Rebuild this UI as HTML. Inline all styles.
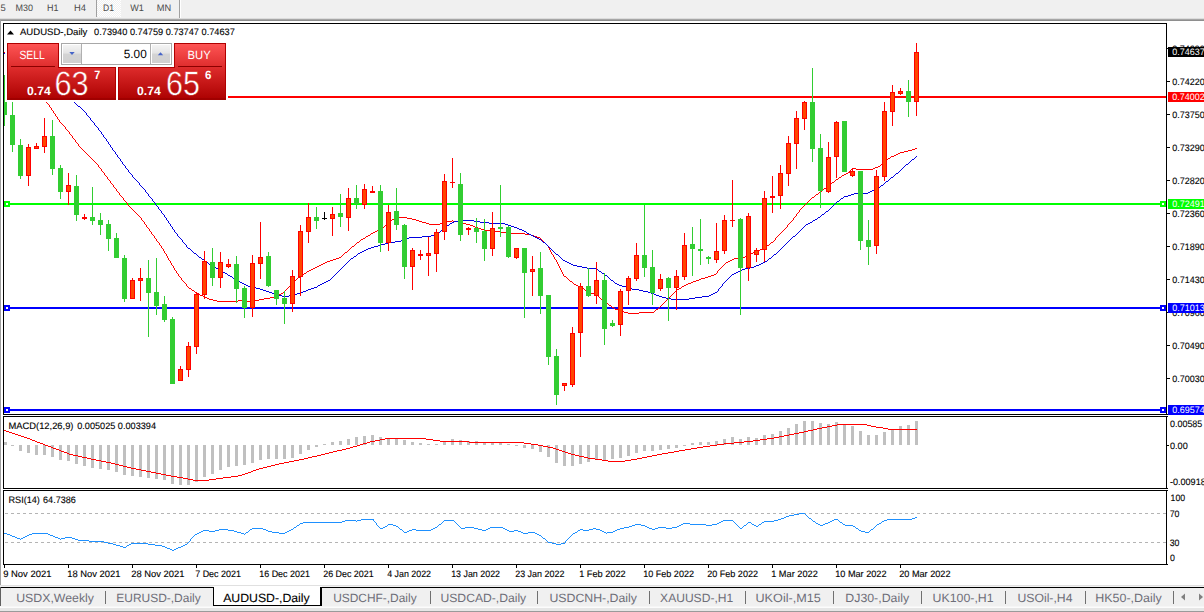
<!DOCTYPE html>
<html><head><meta charset="utf-8"><title>AUDUSD-,Daily</title>
<style>html,body{margin:0;padding:0;background:#fff;overflow:hidden}body{width:1204px;height:612px;position:relative;font-family:"Liberation Sans",sans-serif}</style>
</head><body>
<svg width="1204" height="612" viewBox="0 0 1204 612" style="position:absolute;left:0;top:0" font-family="Liberation Sans, sans-serif" text-rendering="geometricPrecision">
<defs><linearGradient id="rg" x1="0" y1="0" x2="0" y2="1"><stop offset="0" stop-color="#ff5656"/><stop offset="0.45" stop-color="#dc2a2a"/><stop offset="1" stop-color="#ab0000"/></linearGradient><linearGradient id="rgu" gradientUnits="userSpaceOnUse" x1="0" y1="43" x2="0" y2="100"><stop offset="0" stop-color="#ff5656"/><stop offset="0.45" stop-color="#dc2a2a"/><stop offset="1" stop-color="#ab0000"/></linearGradient><linearGradient id="bg" x1="0" y1="0" x2="0" y2="1"><stop offset="0" stop-color="#f4f4f4"/><stop offset="0.45" stop-color="#e4e4e4"/><stop offset="0.5" stop-color="#d4d4d4"/><stop offset="1" stop-color="#d0d0d0"/></linearGradient><linearGradient id="sh" x1="0" y1="0" x2="0" y2="1"><stop offset="0" stop-color="#e8e8e8"/><stop offset="0.5" stop-color="#8c8c8c"/><stop offset="1" stop-color="#a8a8a8"/></linearGradient><pattern id="chk" width="2" height="2" patternUnits="userSpaceOnUse"><rect width="2" height="2" fill="#f0f0f0"/><rect width="1" height="1" fill="#ffffff"/><rect x="1" y="1" width="1" height="1" fill="#ffffff"/></pattern><clipPath id="cp"><rect x="4" y="24" width="1162" height="390"/></clipPath></defs>
<g shape-rendering="crispEdges">
<rect x="0" y="0" width="1204" height="19" fill="#f0f0f0"/>
<rect x="97" y="0" width="24" height="17" fill="url(#chk)"/>
<rect x="96" y="0" width="1" height="17" fill="#a0a0a0"/>
<rect x="179" y="0" width="1" height="19" fill="#a0a0a0"/><rect x="180" y="0" width="1" height="19" fill="#ffffff"/>
<rect x="0" y="18" width="1204" height="1" fill="#dcdcdc"/><rect x="0" y="19" width="1204" height="1" fill="#a6a6a6"/><rect x="0" y="20" width="1204" height="1" fill="#8e8e8e"/>
<rect x="0" y="20" width="1" height="566" fill="#a0a0a0"/>
<rect x="3" y="23" width="1164" height="1" fill="#000"/>
<rect x="3" y="23" width="1" height="542" fill="#000"/>
<rect x="1166" y="23" width="1" height="542" fill="#000"/>
<rect x="3" y="414" width="1165" height="1" fill="#000"/>
<rect x="3" y="416" width="1165" height="1" fill="#000"/>
<rect x="3" y="415" width="1164" height="1" fill="#fff"/>
<rect x="3" y="488" width="1165" height="1" fill="#000"/>
<rect x="3" y="490" width="1165" height="1" fill="#000"/>
<rect x="3" y="489" width="1164" height="1" fill="#fff"/>
<rect x="3" y="564" width="1165" height="1" fill="#000"/>
</g>
<g shape-rendering="crispEdges">
<rect x="227" y="96" width="939" height="2" fill="#ff0000"/>
<rect x="4" y="203" width="1162" height="2" fill="#00ff00"/>
<rect x="4" y="307" width="1162" height="2" fill="#0000ff"/>
<rect x="4" y="409" width="1162" height="2" fill="#0000ff"/>
<rect x="4" y="201" width="6" height="6" fill="#00ff00"/><rect x="6" y="203" width="2" height="2" fill="#fff"/>
<rect x="1160" y="201" width="6" height="6" fill="#00ff00"/><rect x="1162" y="203" width="2" height="2" fill="#fff"/>
<rect x="4" y="305" width="6" height="6" fill="#0000ff"/><rect x="6" y="307" width="2" height="2" fill="#fff"/>
<rect x="1160" y="305" width="6" height="6" fill="#0000ff"/><rect x="1162" y="307" width="2" height="2" fill="#fff"/>
<rect x="4" y="407" width="6" height="6" fill="#0000ff"/><rect x="6" y="409" width="2" height="2" fill="#fff"/>
<rect x="1160" y="407" width="6" height="6" fill="#0000ff"/><rect x="1162" y="409" width="2" height="2" fill="#fff"/>
<rect x="4" y="52" width="1" height="1" fill="#ff0000"/><rect x="4" y="53" width="1" height="1" fill="#0000ff"/>
</g>
<g clip-path="url(#cp)" shape-rendering="crispEdges">
<path d="M46 102h1v1h-1zM47 103h1v1h-1zM48 104h1v1h-1zM49 105h1v2h-1zM50 107h1v1h-1zM51 108h1v2h-1zM52 110h1v1h-1zM53 111h1v2h-1zM54 113h1v1h-1zM55 114h1v2h-1zM56 116h1v1h-1zM57 117h1v2h-1zM58 119h1v1h-1zM59 120h1v2h-1zM60 122h1v1h-1zM61 123h1v1h-1zM62 124h1v1h-1zM63 125h1v1h-1zM64 126h1v1h-1zM65 127h1v2h-1zM66 129h1v1h-1zM67 130h1v1h-1zM68 131h1v1h-1zM69 132h1v2h-1zM70 134h1v1h-1zM71 135h1v1h-1zM72 136h1v2h-1zM73 138h1v1h-1zM74 139h1v1h-1zM75 140h1v2h-1zM76 142h1v1h-1zM77 143h1v1h-1zM78 144h1v2h-1zM79 146h1v1h-1zM80 147h1v1h-1zM81 148h1v1h-1zM82 149h1v1h-1zM83 150h1v1h-1zM84 151h1v1h-1zM85 152h1v1h-1zM86 153h1v1h-1zM87 154h1v1h-1zM88 155h1v1h-1zM89 156h1v1h-1zM90 157h1v1h-1zM91 158h1v1h-1zM92 159h1v1h-1zM93 160h1v1h-1zM94 161h1v1h-1zM95 162h1v1h-1zM96 163h1v1h-1zM97 164h1v1h-1zM98 165h1v2h-1zM99 167h1v1h-1zM100 168h1v1h-1zM101 169h1v2h-1zM102 171h1v1h-1zM103 172h1v1h-1zM104 173h1v2h-1zM105 175h1v1h-1zM106 176h1v1h-1zM107 177h1v2h-1zM108 179h1v1h-1zM109 180h1v1h-1zM110 181h1v2h-1zM111 183h1v1h-1zM112 184h1v1h-1zM113 185h1v2h-1zM114 187h1v1h-1zM115 188h1v1h-1zM116 189h1v2h-1zM117 191h1v1h-1zM118 192h1v1h-1zM119 193h1v2h-1zM120 195h1v1h-1zM121 196h1v1h-1zM122 197h1v1h-1zM123 198h1v2h-1zM124 200h1v1h-1zM125 201h1v1h-1zM126 202h1v1h-1zM127 203h1v2h-1zM128 205h1v1h-1zM129 206h1v1h-1zM130 207h1v1h-1zM131 208h1v1h-1zM132 209h1v1h-1zM133 210h1v1h-1zM134 211h1v1h-1zM135 212h1v1h-1zM136 213h1v1h-1zM137 214h1v1h-1zM138 215h1v1h-1zM139 216h1v1h-1zM140 217h1v1h-1zM141 218h1v2h-1zM142 220h1v1h-1zM143 221h1v1h-1zM144 222h1v2h-1zM145 224h1v1h-1zM146 225h1v2h-1zM147 227h1v1h-1zM148 228h1v1h-1zM149 229h1v2h-1zM150 231h1v1h-1zM151 232h1v2h-1zM152 234h1v1h-1zM153 235h1v1h-1zM154 236h1v2h-1zM155 238h1v1h-1zM156 239h1v2h-1zM157 241h1v1h-1zM158 242h1v1h-1zM159 243h1v2h-1zM160 245h1v1h-1zM161 246h1v2h-1zM162 248h1v1h-1zM163 249h1v2h-1zM164 251h1v2h-1zM165 253h1v1h-1zM166 254h1v2h-1zM167 256h1v2h-1zM168 258h1v2h-1zM169 260h1v1h-1zM170 261h1v2h-1zM171 263h1v2h-1zM172 265h1v1h-1zM173 266h1v2h-1zM174 268h1v2h-1zM175 270h1v1h-1zM176 271h1v2h-1zM177 273h1v1h-1zM178 274h1v2h-1zM179 276h1v1h-1zM180 277h1v1h-1zM181 278h1v2h-1zM182 280h1v1h-1zM183 281h1v1h-1zM184 282h1v1h-1zM185 283h1v1h-1zM186 284h1v2h-1zM187 286h1v1h-1zM188 287h1v1h-1zM189 288h2v1h-2zM191 289h1v1h-1zM192 290h2v1h-2zM194 291h1v1h-1zM195 292h2v1h-2zM197 293h2v1h-2zM199 294h1v1h-1zM200 295h3v1h-3zM203 296h2v1h-2zM205 297h2v1h-2zM207 298h2v1h-2zM209 299h4v1h-4zM213 300h4v1h-4zM217 301h21v1h-21zM238 300h4v1h-4zM242 301h12v1h-12zM254 300h5v1h-5zM259 299h5v1h-5zM264 298h6v1h-6zM270 297h5v1h-5zM275 296h2v1h-2zM277 295h2v1h-2zM279 294h2v1h-2zM281 293h2v1h-2zM283 292h1v1h-1zM284 291h1v1h-1zM285 290h1v1h-1zM286 289h1v1h-1zM287 288h1v1h-1zM288 287h1v1h-1zM289 286h1v1h-1zM290 285h1v1h-1zM291 284h1v1h-1zM292 283h1v1h-1zM293 282h1v1h-1zM294 281h1v1h-1zM295 280h1v1h-1zM296 279h1v1h-1zM297 278h1v1h-1zM298 277h2v1h-2zM300 276h1v1h-1zM301 275h1v1h-1zM302 274h2v1h-2zM304 273h2v1h-2zM306 272h1v1h-1zM307 271h2v1h-2zM309 270h2v1h-2zM311 269h2v1h-2zM313 268h2v1h-2zM315 267h2v1h-2zM317 266h2v1h-2zM319 265h2v1h-2zM321 264h2v1h-2zM323 263h2v1h-2zM325 262h2v1h-2zM327 261h3v1h-3zM330 260h3v1h-3zM333 259h3v1h-3zM336 258h3v1h-3zM339 257h2v1h-2zM341 256h1v1h-1zM342 255h1v1h-1zM343 254h1v1h-1zM344 253h1v1h-1zM345 252h2v1h-2zM347 251h1v1h-1zM348 250h1v1h-1zM349 249h1v1h-1zM350 248h1v1h-1zM351 247h1v1h-1zM352 246h2v1h-2zM354 245h1v1h-1zM355 244h1v1h-1zM356 243h1v1h-1zM357 242h2v1h-2zM359 241h1v1h-1zM360 240h1v1h-1zM361 239h2v1h-2zM363 238h2v1h-2zM365 237h1v1h-1zM366 236h2v1h-2zM368 235h2v1h-2zM370 234h1v1h-1zM371 233h2v1h-2zM373 232h2v1h-2zM375 231h2v1h-2zM377 230h2v1h-2zM379 229h2v1h-2zM381 228h2v1h-2zM383 227h1v1h-1zM384 226h1v1h-1zM385 225h2v1h-2zM387 224h1v1h-1zM388 223h1v1h-1zM389 222h1v1h-1zM390 221h1v1h-1zM391 220h1v1h-1zM392 219h3v1h-3zM395 218h3v1h-3zM398 217h9v1h-9zM407 218h5v1h-5zM412 219h4v1h-4zM416 220h3v1h-3zM419 221h3v1h-3zM422 222h4v1h-4zM426 223h3v1h-3zM429 224h11v1h-11zM440 223h3v1h-3zM443 222h4v1h-4zM447 221h5v1h-5zM452 220h1v1h-1zM453 221h5v1h-5zM458 222h5v1h-5zM463 223h3v1h-3zM466 224h4v1h-4zM470 225h3v1h-3zM473 226h2v1h-2zM475 227h3v1h-3zM478 228h3v1h-3zM481 229h4v1h-4zM485 230h9v1h-9zM494 231h7v1h-7zM501 232h7v1h-7zM508 233h17v1h-17zM525 234h6v1h-6zM531 235h3v1h-3zM534 236h3v1h-3zM537 237h3v1h-3zM540 238h1v1h-1zM541 239h1v1h-1zM542 240h1v1h-1zM543 241h1v1h-1zM544 242h1v1h-1zM545 243h1v1h-1zM546 244h1v1h-1zM547 245h1v1h-1zM548 246h1v2h-1zM549 248h1v2h-1zM550 250h1v2h-1zM551 252h1v2h-1zM552 254h1v1h-1zM553 255h1v2h-1zM554 257h1v2h-1zM555 259h1v1h-1zM556 260h1v2h-1zM557 262h1v2h-1zM558 264h1v2h-1zM559 266h1v2h-1zM560 268h1v2h-1zM561 270h1v2h-1zM562 272h1v2h-1zM563 274h1v2h-1zM564 276h2v1h-2zM566 277h1v1h-1zM567 278h1v1h-1zM568 279h1v1h-1zM569 280h1v1h-1zM570 281h2v1h-2zM572 282h1v1h-1zM573 283h1v1h-1zM574 284h2v1h-2zM576 285h2v1h-2zM578 286h2v1h-2zM580 287h2v1h-2zM582 288h2v1h-2zM584 289h1v1h-1zM585 290h2v1h-2zM587 291h1v1h-1zM588 292h2v1h-2zM590 293h6v1h-6zM596 294h1v1h-1zM597 295h1v1h-1zM598 296h1v1h-1zM599 297h1v1h-1zM600 298h1v1h-1zM601 299h1v1h-1zM602 300h2v1h-2zM604 301h1v1h-1zM605 302h2v1h-2zM607 303h1v1h-1zM608 304h1v1h-1zM609 305h2v1h-2zM611 306h1v1h-1zM612 307h2v1h-2zM614 308h1v1h-1zM615 309h3v1h-3zM618 310h3v1h-3zM621 311h3v1h-3zM624 312h4v1h-4zM628 313h11v1h-11zM639 312h15v1h-15zM654 311h1v1h-1zM655 310h1v1h-1zM656 309h2v1h-2zM658 308h1v1h-1zM659 307h1v1h-1zM660 306h1v1h-1zM661 305h1v1h-1zM662 304h1v1h-1zM663 303h1v1h-1zM664 302h1v1h-1zM665 301h1v1h-1zM666 300h1v1h-1zM667 299h1v1h-1zM668 298h1v1h-1zM669 297h1v1h-1zM670 296h1v1h-1zM671 295h1v1h-1zM672 294h1v1h-1zM673 293h1v1h-1zM674 292h1v1h-1zM675 291h1v1h-1zM676 290h1v1h-1zM677 289h2v1h-2zM679 288h2v1h-2zM681 287h1v1h-1zM682 286h2v1h-2zM684 285h2v1h-2zM686 284h2v1h-2zM688 283h3v1h-3zM691 282h2v1h-2zM693 281h3v1h-3zM696 280h3v1h-3zM699 279h2v1h-2zM701 278h4v1h-4zM705 277h3v1h-3zM708 276h3v1h-3zM711 275h3v1h-3zM714 274h2v1h-2zM716 273h1v1h-1zM717 271h1v2h-1zM718 270h1v1h-1zM719 269h1v1h-1zM720 268h1v1h-1zM721 267h1v1h-1zM722 266h1v1h-1zM723 265h1v1h-1zM724 264h1v1h-1zM725 263h1v1h-1zM726 262h2v1h-2zM728 261h2v1h-2zM730 260h2v1h-2zM732 259h2v1h-2zM734 258h6v1h-6zM740 257h5v1h-5zM745 256h2v1h-2zM747 255h2v1h-2zM749 254h2v1h-2zM751 253h2v1h-2zM753 252h2v1h-2zM755 251h3v1h-3zM758 250h2v1h-2zM760 249h2v1h-2zM762 248h2v1h-2zM764 247h2v1h-2zM766 246h1v1h-1zM767 245h2v1h-2zM769 244h1v1h-1zM770 243h1v1h-1zM771 242h2v1h-2zM773 241h1v1h-1zM774 240h1v1h-1zM775 238h1v2h-1zM776 237h1v1h-1zM777 236h1v1h-1zM778 235h1v1h-1zM779 234h1v1h-1zM780 233h1v1h-1zM781 232h1v1h-1zM782 231h1v1h-1zM783 230h1v1h-1zM784 229h1v1h-1zM785 228h1v1h-1zM786 227h1v1h-1zM787 225h1v2h-1zM788 224h1v1h-1zM789 223h1v1h-1zM790 222h1v1h-1zM791 221h1v1h-1zM792 220h1v1h-1zM793 218h1v2h-1zM794 217h1v1h-1zM795 216h1v1h-1zM796 214h1v2h-1zM797 213h1v1h-1zM798 212h1v1h-1zM799 210h1v2h-1zM800 209h1v1h-1zM801 208h1v1h-1zM802 207h1v1h-1zM803 206h1v1h-1zM804 205h1v1h-1zM805 204h1v1h-1zM806 203h1v1h-1zM807 202h1v1h-1zM808 201h1v1h-1zM809 200h1v1h-1zM810 199h1v1h-1zM811 198h1v1h-1zM812 197h2v1h-2zM814 196h1v1h-1zM815 195h1v1h-1zM816 194h2v1h-2zM818 193h1v1h-1zM819 192h1v1h-1zM820 191h2v1h-2zM822 190h1v1h-1zM823 189h1v1h-1zM824 188h2v1h-2zM826 187h1v1h-1zM827 186h1v1h-1zM828 185h2v1h-2zM830 184h1v1h-1zM831 183h1v1h-1zM832 182h2v1h-2zM834 181h1v1h-1zM835 180h1v1h-1zM836 179h2v1h-2zM838 178h1v1h-1zM839 177h2v1h-2zM841 176h1v1h-1zM842 175h2v1h-2zM844 174h2v1h-2zM846 173h2v1h-2zM848 172h1v1h-1zM849 171h1v2h-1zM850 170h1v1h-1zM851 169h1v1h-1zM852 168h4v1h-4zM856 169h17v1h-17zM873 168h2v1h-2zM875 167h3v1h-3zM878 166h2v1h-2zM880 165h1v1h-1zM881 164h1v1h-1zM882 163h2v1h-2zM884 162h1v1h-1zM885 161h1v1h-1zM886 160h1v1h-1zM887 159h1v1h-1zM888 158h2v1h-2zM890 157h1v1h-1zM891 156h3v1h-3zM894 155h2v1h-2zM896 154h2v1h-2zM898 153h2v1h-2zM900 152h4v1h-4zM904 151h4v1h-4zM908 150h4v1h-4zM912 149h3v1h-3zM915 148h2v1h-2z" fill="#ff0000"/>
<path d="M74 102h1v1h-1zM75 103h1v1h-1zM76 104h1v1h-1zM77 105h1v1h-1zM78 106h2v1h-2zM80 107h1v1h-1zM81 108h1v1h-1zM82 109h1v1h-1zM83 110h1v1h-1zM84 111h1v1h-1zM85 112h1v1h-1zM86 113h1v2h-1zM87 115h1v1h-1zM88 116h1v1h-1zM89 117h1v1h-1zM90 118h1v2h-1zM91 120h1v1h-1zM92 121h1v1h-1zM93 122h1v1h-1zM94 123h1v2h-1zM95 125h1v1h-1zM96 126h1v1h-1zM97 127h1v1h-1zM98 128h1v2h-1zM99 130h1v1h-1zM100 131h1v1h-1zM101 132h1v2h-1zM102 134h1v1h-1zM103 135h1v2h-1zM104 137h1v1h-1zM105 138h1v1h-1zM106 139h1v2h-1zM107 141h1v1h-1zM108 142h1v2h-1zM109 144h1v1h-1zM110 145h1v2h-1zM111 147h1v1h-1zM112 148h1v2h-1zM113 150h1v1h-1zM114 151h1v1h-1zM115 152h1v2h-1zM116 154h1v1h-1zM117 155h1v2h-1zM118 157h1v1h-1zM119 158h1v1h-1zM120 159h1v2h-1zM121 161h1v1h-1zM122 162h1v2h-1zM123 164h1v1h-1zM124 165h1v1h-1zM125 166h1v2h-1zM126 168h1v1h-1zM127 169h1v1h-1zM128 170h1v2h-1zM129 172h1v1h-1zM130 173h1v1h-1zM131 174h1v1h-1zM132 175h1v2h-1zM133 177h1v1h-1zM134 178h1v1h-1zM135 179h1v1h-1zM136 180h1v1h-1zM137 181h1v1h-1zM138 182h1v1h-1zM139 183h1v2h-1zM140 185h1v1h-1zM141 186h1v1h-1zM142 187h1v1h-1zM143 188h1v1h-1zM144 189h1v1h-1zM145 190h1v2h-1zM146 192h1v1h-1zM147 193h1v1h-1zM148 194h1v2h-1zM149 196h1v1h-1zM150 197h1v1h-1zM151 198h1v1h-1zM152 199h1v2h-1zM153 201h1v1h-1zM154 202h1v1h-1zM155 203h1v2h-1zM156 205h1v1h-1zM157 206h1v1h-1zM158 207h1v2h-1zM159 209h1v1h-1zM160 210h1v1h-1zM161 211h1v2h-1zM162 213h1v1h-1zM163 214h1v1h-1zM164 215h1v2h-1zM165 217h1v1h-1zM166 218h1v2h-1zM167 220h1v1h-1zM168 221h1v2h-1zM169 223h1v1h-1zM170 224h1v2h-1zM171 226h1v1h-1zM172 227h1v2h-1zM173 229h1v1h-1zM174 230h1v2h-1zM175 232h1v1h-1zM176 233h1v1h-1zM177 234h1v2h-1zM178 236h1v1h-1zM179 237h1v1h-1zM180 238h1v1h-1zM181 239h1v1h-1zM182 240h1v2h-1zM183 242h1v1h-1zM184 243h1v1h-1zM185 244h1v1h-1zM186 245h1v2h-1zM187 247h1v1h-1zM188 248h2v1h-2zM190 249h1v1h-1zM191 250h1v1h-1zM192 251h1v1h-1zM193 252h1v1h-1zM194 253h2v1h-2zM196 254h1v1h-1zM197 255h1v1h-1zM198 256h1v1h-1zM199 257h2v1h-2zM201 258h1v1h-1zM202 259h2v1h-2zM204 260h1v1h-1zM205 261h2v1h-2zM207 262h1v1h-1zM208 263h1v1h-1zM209 264h2v1h-2zM211 265h1v1h-1zM212 266h2v1h-2zM214 267h2v1h-2zM216 268h2v1h-2zM218 269h2v1h-2zM220 270h1v1h-1zM221 271h2v1h-2zM223 272h2v1h-2zM225 273h2v1h-2zM227 274h1v1h-1zM228 275h2v1h-2zM230 276h2v1h-2zM232 277h1v1h-1zM233 278h2v1h-2zM235 279h2v1h-2zM237 280h1v1h-1zM238 281h2v1h-2zM240 282h2v1h-2zM242 283h2v1h-2zM244 284h2v1h-2zM246 285h2v1h-2zM248 286h4v1h-4zM252 287h4v1h-4zM256 288h4v1h-4zM260 289h3v1h-3zM263 290h3v1h-3zM266 291h3v1h-3zM269 292h3v1h-3zM272 293h4v1h-4zM276 294h3v1h-3zM279 295h3v1h-3zM282 296h7v1h-7zM289 295h4v1h-4zM293 294h4v1h-4zM297 293h3v1h-3zM300 292h3v1h-3zM303 291h3v1h-3zM306 290h2v1h-2zM308 289h3v1h-3zM311 288h3v1h-3zM314 287h3v1h-3zM317 286h1v1h-1zM318 285h2v1h-2zM320 284h2v1h-2zM322 283h2v1h-2zM324 282h2v1h-2zM326 281h2v1h-2zM328 280h2v1h-2zM330 279h1v1h-1zM331 278h1v1h-1zM332 277h1v1h-1zM333 276h1v1h-1zM334 275h1v1h-1zM335 274h1v1h-1zM336 273h1v1h-1zM337 272h1v1h-1zM338 271h1v1h-1zM339 270h1v1h-1zM340 269h1v1h-1zM341 268h1v1h-1zM342 267h1v1h-1zM343 266h1v1h-1zM344 265h1v1h-1zM345 264h1v1h-1zM346 263h1v1h-1zM347 262h1v1h-1zM348 261h1v1h-1zM349 260h1v1h-1zM350 259h1v1h-1zM351 258h2v1h-2zM353 257h1v1h-1zM354 256h2v1h-2zM356 255h1v1h-1zM357 254h1v1h-1zM358 253h2v1h-2zM360 252h2v1h-2zM362 251h2v1h-2zM364 250h2v1h-2zM366 249h2v1h-2zM368 248h3v1h-3zM371 247h3v1h-3zM374 246h4v1h-4zM378 245h3v1h-3zM381 244h4v1h-4zM385 243h4v1h-4zM389 242h6v1h-6zM395 241h6v1h-6zM401 240h3v1h-3zM404 239h2v1h-2zM406 238h3v1h-3zM409 237h13v1h-13zM422 236h9v1h-9zM431 235h5v1h-5zM436 234h2v1h-2zM438 233h1v1h-1zM439 232h1v1h-1zM440 231h1v1h-1zM441 230h2v1h-2zM443 229h1v1h-1zM444 228h1v1h-1zM445 227h1v1h-1zM446 226h1v1h-1zM447 225h2v1h-2zM449 224h1v1h-1zM450 223h2v1h-2zM452 222h2v1h-2zM454 221h7v1h-7zM461 220h13v1h-13zM474 221h6v1h-6zM480 222h9v1h-9zM489 223h16v1h-16zM505 224h3v1h-3zM508 225h3v1h-3zM511 226h3v1h-3zM514 227h3v1h-3zM517 228h2v1h-2zM519 229h3v1h-3zM522 230h2v1h-2zM524 231h2v1h-2zM526 232h1v1h-1zM527 233h2v1h-2zM529 234h2v1h-2zM531 235h2v1h-2zM533 236h2v1h-2zM535 237h2v1h-2zM537 238h2v1h-2zM539 239h2v1h-2zM541 240h1v1h-1zM542 241h1v1h-1zM543 242h2v1h-2zM545 243h1v1h-1zM546 244h1v1h-1zM547 245h1v1h-1zM548 246h1v1h-1zM549 247h1v1h-1zM550 248h1v1h-1zM551 249h1v1h-1zM552 250h1v1h-1zM553 251h1v1h-1zM554 252h1v1h-1zM555 253h1v1h-1zM556 254h2v1h-2zM558 255h1v1h-1zM559 256h1v1h-1zM560 257h1v1h-1zM561 258h1v1h-1zM562 259h1v1h-1zM563 260h2v1h-2zM565 261h2v1h-2zM567 262h2v1h-2zM569 263h2v1h-2zM571 264h2v1h-2zM573 265h4v1h-4zM577 266h5v1h-5zM582 267h5v1h-5zM587 268h9v1h-9zM596 269h2v1h-2zM598 270h1v1h-1zM599 271h2v1h-2zM601 272h1v1h-1zM602 273h2v1h-2zM604 274h1v1h-1zM605 275h2v1h-2zM607 276h1v1h-1zM608 277h1v1h-1zM609 278h1v1h-1zM610 279h1v1h-1zM611 280h2v1h-2zM613 281h1v1h-1zM614 282h1v1h-1zM615 283h2v1h-2zM617 284h2v1h-2zM619 285h3v1h-3zM622 286h4v1h-4zM626 287h3v1h-3zM629 288h3v1h-3zM632 289h7v1h-7zM639 290h4v1h-4zM643 291h5v1h-5zM648 292h3v1h-3zM651 293h3v1h-3zM654 294h2v1h-2zM656 295h3v1h-3zM659 296h3v1h-3zM662 297h4v1h-4zM666 298h5v1h-5zM671 299h18v1h-18zM689 298h6v1h-6zM695 297h7v1h-7zM702 296h7v1h-7zM709 295h2v1h-2zM711 294h2v1h-2zM713 293h2v1h-2zM715 292h2v1h-2zM717 291h1v1h-1zM718 289h1v2h-1zM719 288h1v1h-1zM720 287h1v1h-1zM721 286h1v1h-1zM722 284h1v2h-1zM723 283h1v1h-1zM724 282h1v1h-1zM725 281h1v1h-1zM726 280h1v1h-1zM727 279h1v1h-1zM728 278h1v1h-1zM729 277h1v1h-1zM730 276h1v1h-1zM731 275h1v1h-1zM732 274h2v1h-2zM734 273h2v1h-2zM736 272h2v1h-2zM738 271h2v1h-2zM740 270h2v1h-2zM742 269h3v1h-3zM745 268h5v1h-5zM750 267h4v1h-4zM754 266h2v1h-2zM756 265h3v1h-3zM759 264h2v1h-2zM761 263h2v1h-2zM763 262h2v1h-2zM765 261h2v1h-2zM767 260h1v1h-1zM768 259h1v1h-1zM769 258h2v1h-2zM771 257h1v1h-1zM772 256h1v1h-1zM773 255h1v1h-1zM774 254h2v1h-2zM776 253h1v1h-1zM777 252h1v1h-1zM778 251h1v1h-1zM779 250h1v1h-1zM780 249h1v1h-1zM781 248h1v1h-1zM782 247h1v1h-1zM783 246h1v1h-1zM784 245h1v1h-1zM785 244h1v1h-1zM786 243h1v1h-1zM787 242h1v1h-1zM788 241h1v1h-1zM789 240h1v1h-1zM790 239h1v1h-1zM791 238h1v1h-1zM792 237h1v1h-1zM793 236h2v1h-2zM795 235h1v1h-1zM796 234h1v1h-1zM797 233h1v1h-1zM798 232h1v1h-1zM799 231h1v1h-1zM800 230h1v1h-1zM801 229h1v1h-1zM802 228h1v1h-1zM803 227h1v1h-1zM804 226h1v1h-1zM805 225h1v1h-1zM806 224h2v1h-2zM808 223h2v1h-2zM810 222h2v1h-2zM812 221h1v1h-1zM813 220h2v1h-2zM815 219h2v1h-2zM817 218h1v1h-1zM818 217h2v1h-2zM820 216h1v1h-1zM821 215h1v1h-1zM822 214h2v1h-2zM824 213h1v1h-1zM825 212h1v1h-1zM826 211h2v1h-2zM828 210h1v1h-1zM829 209h1v1h-1zM830 208h1v1h-1zM831 207h1v1h-1zM832 206h1v1h-1zM833 205h1v1h-1zM834 204h1v1h-1zM835 203h1v1h-1zM836 202h1v1h-1zM837 201h2v1h-2zM839 200h1v1h-1zM840 199h1v1h-1zM841 198h2v1h-2zM843 197h1v1h-1zM844 196h4v1h-4zM848 195h3v1h-3zM851 194h3v1h-3zM854 193h14v1h-14zM868 192h2v1h-2zM870 191h2v1h-2zM872 190h2v1h-2zM874 189h2v1h-2zM876 188h2v1h-2zM878 187h2v1h-2zM880 186h1v1h-1zM881 185h2v1h-2zM883 184h1v1h-1zM884 183h1v1h-1zM885 182h1v1h-1zM886 181h2v1h-2zM888 180h1v1h-1zM889 179h1v1h-1zM890 178h1v1h-1zM891 177h2v1h-2zM893 176h1v1h-1zM894 175h1v1h-1zM895 174h1v1h-1zM896 173h2v1h-2zM898 172h1v1h-1zM899 171h1v1h-1zM900 170h1v1h-1zM901 169h1v1h-1zM902 168h1v1h-1zM903 167h1v1h-1zM904 166h1v1h-1zM905 165h1v1h-1zM906 164h2v1h-2zM908 163h1v1h-1zM909 162h1v1h-1zM910 161h1v1h-1zM911 160h1v1h-1zM912 159h2v1h-2zM914 158h1v1h-1zM915 157h1v1h-1zM916 156h1v1h-1z" fill="#0000e0"/>
</g>
<g clip-path="url(#cp)" shape-rendering="crispEdges">
<rect x="4" y="75" width="1" height="51" fill="#32cd32"/><rect x="4" y="102" width="3" height="13" fill="#32cd32"/>
<rect x="12" y="102" width="1" height="50" fill="#32cd32"/>
<rect x="10" y="115" width="5" height="30" fill="#32cd32"/>
<rect x="20" y="139" width="1" height="40" fill="#32cd32"/>
<rect x="18" y="145" width="5" height="31" fill="#32cd32"/>
<rect x="28" y="144" width="1" height="42" fill="#ff0000"/>
<rect x="26" y="147" width="5" height="29" fill="#ff0000"/>
<rect x="27" y="148" width="3" height="27" fill="#ff4500"/>
<rect x="36" y="143" width="1" height="6" fill="#ff0000"/>
<rect x="34" y="146" width="5" height="3" fill="#ff0000"/>
<rect x="35" y="147" width="3" height="1" fill="#ff4500"/>
<rect x="44" y="118" width="1" height="35" fill="#ff0000"/>
<rect x="42" y="136" width="5" height="11" fill="#ff0000"/>
<rect x="43" y="137" width="3" height="9" fill="#ff4500"/>
<rect x="52" y="120" width="1" height="55" fill="#32cd32"/>
<rect x="50" y="136" width="5" height="33" fill="#32cd32"/>
<rect x="60" y="165" width="1" height="34" fill="#32cd32"/>
<rect x="58" y="168" width="5" height="24" fill="#32cd32"/>
<rect x="68" y="173" width="1" height="32" fill="#ff0000"/>
<rect x="66" y="185" width="5" height="7" fill="#ff0000"/>
<rect x="67" y="186" width="3" height="5" fill="#ff4500"/>
<rect x="76" y="175" width="1" height="46" fill="#32cd32"/>
<rect x="74" y="186" width="5" height="29" fill="#32cd32"/>
<rect x="84" y="214" width="1" height="6" fill="#ff0000"/>
<rect x="82" y="217" width="5" height="2" fill="#ff0000"/>
<rect x="92" y="187" width="1" height="38" fill="#32cd32"/>
<rect x="90" y="217" width="5" height="4" fill="#32cd32"/>
<rect x="100" y="213" width="1" height="22" fill="#32cd32"/>
<rect x="98" y="220" width="5" height="5" fill="#32cd32"/>
<rect x="108" y="220" width="1" height="31" fill="#32cd32"/>
<rect x="106" y="224" width="5" height="15" fill="#32cd32"/>
<rect x="116" y="233" width="1" height="25" fill="#32cd32"/>
<rect x="114" y="238" width="5" height="20" fill="#32cd32"/>
<rect x="124" y="255" width="1" height="47" fill="#32cd32"/>
<rect x="122" y="258" width="5" height="41" fill="#32cd32"/>
<rect x="132" y="278" width="1" height="21" fill="#ff0000"/>
<rect x="130" y="280" width="5" height="19" fill="#ff0000"/>
<rect x="131" y="281" width="3" height="17" fill="#ff4500"/>
<rect x="140" y="268" width="1" height="33" fill="#ff0000"/>
<rect x="138" y="278" width="5" height="3" fill="#ff0000"/>
<rect x="139" y="279" width="3" height="1" fill="#ff4500"/>
<rect x="148" y="260" width="1" height="77" fill="#32cd32"/>
<rect x="146" y="278" width="5" height="15" fill="#32cd32"/>
<rect x="156" y="258" width="1" height="57" fill="#32cd32"/>
<rect x="154" y="292" width="5" height="14" fill="#32cd32"/>
<rect x="164" y="296" width="1" height="26" fill="#32cd32"/>
<rect x="162" y="304" width="5" height="16" fill="#32cd32"/>
<rect x="172" y="317" width="1" height="67" fill="#32cd32"/>
<rect x="170" y="319" width="5" height="65" fill="#32cd32"/>
<rect x="180" y="366" width="1" height="15" fill="#ff0000"/>
<rect x="178" y="369" width="5" height="12" fill="#ff0000"/>
<rect x="179" y="370" width="3" height="10" fill="#ff4500"/>
<rect x="188" y="342" width="1" height="35" fill="#ff0000"/>
<rect x="186" y="346" width="5" height="24" fill="#ff0000"/>
<rect x="187" y="347" width="3" height="22" fill="#ff4500"/>
<rect x="196" y="293" width="1" height="61" fill="#ff0000"/>
<rect x="194" y="294" width="5" height="53" fill="#ff0000"/>
<rect x="195" y="295" width="3" height="51" fill="#ff4500"/>
<rect x="204" y="251" width="1" height="48" fill="#ff0000"/>
<rect x="202" y="261" width="5" height="34" fill="#ff0000"/>
<rect x="203" y="262" width="3" height="32" fill="#ff4500"/>
<rect x="212" y="248" width="1" height="38" fill="#32cd32"/>
<rect x="210" y="262" width="5" height="16" fill="#32cd32"/>
<rect x="220" y="252" width="1" height="36" fill="#ff0000"/>
<rect x="218" y="262" width="5" height="16" fill="#ff0000"/>
<rect x="219" y="263" width="3" height="14" fill="#ff4500"/>
<rect x="228" y="259" width="1" height="9" fill="#ff0000"/>
<rect x="226" y="264" width="5" height="3" fill="#ff0000"/>
<rect x="227" y="265" width="3" height="1" fill="#ff4500"/>
<rect x="236" y="256" width="1" height="47" fill="#32cd32"/>
<rect x="234" y="264" width="5" height="25" fill="#32cd32"/>
<rect x="244" y="286" width="1" height="32" fill="#32cd32"/>
<rect x="242" y="288" width="5" height="20" fill="#32cd32"/>
<rect x="252" y="255" width="1" height="62" fill="#ff0000"/>
<rect x="250" y="263" width="5" height="45" fill="#ff0000"/>
<rect x="251" y="264" width="3" height="43" fill="#ff4500"/>
<rect x="260" y="222" width="1" height="57" fill="#ff0000"/>
<rect x="258" y="257" width="5" height="7" fill="#ff0000"/>
<rect x="259" y="258" width="3" height="5" fill="#ff4500"/>
<rect x="268" y="252" width="1" height="35" fill="#32cd32"/>
<rect x="266" y="256" width="5" height="30" fill="#32cd32"/>
<rect x="276" y="290" width="1" height="15" fill="#32cd32"/>
<rect x="274" y="290" width="5" height="9" fill="#32cd32"/>
<rect x="284" y="291" width="1" height="33" fill="#32cd32"/>
<rect x="282" y="298" width="5" height="6" fill="#32cd32"/>
<rect x="292" y="270" width="1" height="42" fill="#ff0000"/>
<rect x="290" y="276" width="5" height="28" fill="#ff0000"/>
<rect x="291" y="277" width="3" height="26" fill="#ff4500"/>
<rect x="300" y="225" width="1" height="71" fill="#ff0000"/>
<rect x="298" y="231" width="5" height="46" fill="#ff0000"/>
<rect x="299" y="232" width="3" height="44" fill="#ff4500"/>
<rect x="308" y="203" width="1" height="40" fill="#ff0000"/>
<rect x="306" y="217" width="5" height="15" fill="#ff0000"/>
<rect x="307" y="218" width="3" height="13" fill="#ff4500"/>
<rect x="316" y="207" width="1" height="22" fill="#32cd32"/>
<rect x="314" y="217" width="5" height="4" fill="#32cd32"/>
<rect x="324" y="212" width="1" height="8" fill="#000"/>
<rect x="322" y="218" width="5" height="1" fill="#000"/>
<rect x="332" y="207" width="1" height="29" fill="#ff0000"/>
<rect x="330" y="214" width="5" height="5" fill="#ff0000"/>
<rect x="331" y="215" width="3" height="3" fill="#ff4500"/>
<rect x="340" y="194" width="1" height="33" fill="#32cd32"/>
<rect x="338" y="213" width="5" height="4" fill="#32cd32"/>
<rect x="348" y="188" width="1" height="43" fill="#ff0000"/>
<rect x="346" y="198" width="5" height="20" fill="#ff0000"/>
<rect x="347" y="199" width="3" height="18" fill="#ff4500"/>
<rect x="356" y="185" width="1" height="24" fill="#32cd32"/>
<rect x="354" y="198" width="5" height="6" fill="#32cd32"/>
<rect x="364" y="184" width="1" height="25" fill="#ff0000"/>
<rect x="362" y="189" width="5" height="16" fill="#ff0000"/>
<rect x="363" y="190" width="3" height="14" fill="#ff4500"/>
<rect x="372" y="186" width="1" height="7" fill="#ff0000"/>
<rect x="370" y="191" width="5" height="2" fill="#ff0000"/>
<rect x="380" y="185" width="1" height="67" fill="#32cd32"/>
<rect x="378" y="191" width="5" height="52" fill="#32cd32"/>
<rect x="388" y="205" width="1" height="46" fill="#ff0000"/>
<rect x="386" y="212" width="5" height="31" fill="#ff0000"/>
<rect x="387" y="213" width="3" height="29" fill="#ff4500"/>
<rect x="396" y="188" width="1" height="42" fill="#32cd32"/>
<rect x="394" y="211" width="5" height="14" fill="#32cd32"/>
<rect x="404" y="224" width="1" height="55" fill="#32cd32"/>
<rect x="402" y="225" width="5" height="42" fill="#32cd32"/>
<rect x="412" y="248" width="1" height="42" fill="#ff0000"/>
<rect x="410" y="250" width="5" height="17" fill="#ff0000"/>
<rect x="411" y="251" width="3" height="15" fill="#ff4500"/>
<rect x="420" y="250" width="1" height="10" fill="#ff0000"/>
<rect x="418" y="254" width="5" height="2" fill="#ff0000"/>
<rect x="428" y="237" width="1" height="39" fill="#ff0000"/>
<rect x="426" y="253" width="5" height="3" fill="#ff0000"/>
<rect x="427" y="254" width="3" height="1" fill="#ff4500"/>
<rect x="436" y="229" width="1" height="43" fill="#ff0000"/>
<rect x="434" y="232" width="5" height="22" fill="#ff0000"/>
<rect x="435" y="233" width="3" height="20" fill="#ff4500"/>
<rect x="444" y="174" width="1" height="66" fill="#ff0000"/>
<rect x="442" y="181" width="5" height="51" fill="#ff0000"/>
<rect x="443" y="182" width="3" height="49" fill="#ff4500"/>
<rect x="452" y="158" width="1" height="30" fill="#ff0000"/>
<rect x="450" y="182" width="5" height="1" fill="#ff0000"/>
<rect x="460" y="173" width="1" height="68" fill="#32cd32"/>
<rect x="458" y="184" width="5" height="51" fill="#32cd32"/>
<rect x="468" y="227" width="1" height="8" fill="#ff0000"/>
<rect x="466" y="228" width="5" height="2" fill="#ff0000"/>
<rect x="476" y="218" width="1" height="25" fill="#32cd32"/>
<rect x="474" y="228" width="5" height="4" fill="#32cd32"/>
<rect x="484" y="219" width="1" height="42" fill="#32cd32"/>
<rect x="482" y="231" width="5" height="18" fill="#32cd32"/>
<rect x="492" y="212" width="1" height="44" fill="#ff0000"/>
<rect x="490" y="228" width="5" height="21" fill="#ff0000"/>
<rect x="491" y="229" width="3" height="19" fill="#ff4500"/>
<rect x="500" y="185" width="1" height="52" fill="#32cd32"/>
<rect x="498" y="227" width="5" height="2" fill="#32cd32"/>
<rect x="508" y="226" width="1" height="32" fill="#32cd32"/>
<rect x="506" y="227" width="5" height="30" fill="#32cd32"/>
<rect x="516" y="248" width="1" height="11" fill="#ff0000"/>
<rect x="514" y="248" width="5" height="10" fill="#ff0000"/>
<rect x="515" y="249" width="3" height="8" fill="#ff4500"/>
<rect x="524" y="248" width="1" height="70" fill="#32cd32"/>
<rect x="522" y="248" width="5" height="25" fill="#32cd32"/>
<rect x="532" y="256" width="1" height="40" fill="#ff0000"/>
<rect x="530" y="269" width="5" height="3" fill="#ff0000"/>
<rect x="531" y="270" width="3" height="1" fill="#ff4500"/>
<rect x="540" y="252" width="1" height="62" fill="#32cd32"/>
<rect x="538" y="268" width="5" height="28" fill="#32cd32"/>
<rect x="548" y="295" width="1" height="70" fill="#32cd32"/>
<rect x="546" y="295" width="5" height="62" fill="#32cd32"/>
<rect x="556" y="349" width="1" height="56" fill="#32cd32"/>
<rect x="554" y="356" width="5" height="39" fill="#32cd32"/>
<rect x="564" y="383" width="1" height="8" fill="#ff0000"/>
<rect x="562" y="383" width="5" height="3" fill="#ff0000"/>
<rect x="563" y="384" width="3" height="1" fill="#ff4500"/>
<rect x="572" y="327" width="1" height="60" fill="#ff0000"/>
<rect x="570" y="333" width="5" height="52" fill="#ff0000"/>
<rect x="571" y="334" width="3" height="50" fill="#ff4500"/>
<rect x="580" y="283" width="1" height="74" fill="#ff0000"/>
<rect x="578" y="286" width="5" height="47" fill="#ff0000"/>
<rect x="579" y="287" width="3" height="45" fill="#ff4500"/>
<rect x="588" y="268" width="1" height="29" fill="#32cd32"/>
<rect x="586" y="286" width="5" height="10" fill="#32cd32"/>
<rect x="596" y="262" width="1" height="42" fill="#ff0000"/>
<rect x="594" y="280" width="5" height="16" fill="#ff0000"/>
<rect x="595" y="281" width="3" height="14" fill="#ff4500"/>
<rect x="604" y="273" width="1" height="72" fill="#32cd32"/>
<rect x="602" y="280" width="5" height="49" fill="#32cd32"/>
<rect x="612" y="320" width="1" height="7" fill="#32cd32"/>
<rect x="610" y="323" width="5" height="3" fill="#32cd32"/>
<rect x="620" y="289" width="1" height="47" fill="#ff0000"/>
<rect x="618" y="291" width="5" height="34" fill="#ff0000"/>
<rect x="619" y="292" width="3" height="32" fill="#ff4500"/>
<rect x="628" y="276" width="1" height="29" fill="#ff0000"/>
<rect x="626" y="278" width="5" height="13" fill="#ff0000"/>
<rect x="627" y="279" width="3" height="11" fill="#ff4500"/>
<rect x="636" y="243" width="1" height="38" fill="#ff0000"/>
<rect x="634" y="255" width="5" height="24" fill="#ff0000"/>
<rect x="635" y="256" width="3" height="22" fill="#ff4500"/>
<rect x="644" y="205" width="1" height="72" fill="#32cd32"/>
<rect x="642" y="255" width="5" height="13" fill="#32cd32"/>
<rect x="652" y="250" width="1" height="55" fill="#32cd32"/>
<rect x="650" y="267" width="5" height="26" fill="#32cd32"/>
<rect x="660" y="274" width="1" height="17" fill="#ff0000"/>
<rect x="658" y="279" width="5" height="10" fill="#ff0000"/>
<rect x="659" y="280" width="3" height="8" fill="#ff4500"/>
<rect x="668" y="277" width="1" height="44" fill="#32cd32"/>
<rect x="666" y="278" width="5" height="10" fill="#32cd32"/>
<rect x="676" y="270" width="1" height="40" fill="#ff0000"/>
<rect x="674" y="276" width="5" height="12" fill="#ff0000"/>
<rect x="675" y="277" width="3" height="10" fill="#ff4500"/>
<rect x="684" y="233" width="1" height="47" fill="#ff0000"/>
<rect x="682" y="245" width="5" height="32" fill="#ff0000"/>
<rect x="683" y="246" width="3" height="30" fill="#ff4500"/>
<rect x="692" y="227" width="1" height="49" fill="#32cd32"/>
<rect x="690" y="244" width="5" height="5" fill="#32cd32"/>
<rect x="700" y="219" width="1" height="46" fill="#32cd32"/>
<rect x="698" y="249" width="5" height="2" fill="#32cd32"/>
<rect x="708" y="256" width="1" height="8" fill="#32cd32"/>
<rect x="706" y="257" width="5" height="2" fill="#32cd32"/>
<rect x="716" y="223" width="1" height="40" fill="#ff0000"/>
<rect x="714" y="251" width="5" height="9" fill="#ff0000"/>
<rect x="715" y="252" width="3" height="7" fill="#ff4500"/>
<rect x="724" y="215" width="1" height="39" fill="#ff0000"/>
<rect x="722" y="220" width="5" height="31" fill="#ff0000"/>
<rect x="723" y="221" width="3" height="29" fill="#ff4500"/>
<rect x="732" y="180" width="1" height="47" fill="#ff0000"/>
<rect x="730" y="220" width="5" height="1" fill="#ff0000"/>
<rect x="740" y="218" width="1" height="97" fill="#32cd32"/>
<rect x="738" y="219" width="5" height="49" fill="#32cd32"/>
<rect x="748" y="213" width="1" height="68" fill="#ff0000"/>
<rect x="746" y="216" width="5" height="52" fill="#ff0000"/>
<rect x="747" y="217" width="3" height="50" fill="#ff4500"/>
<rect x="756" y="248" width="1" height="14" fill="#ff0000"/>
<rect x="754" y="250" width="5" height="5" fill="#ff0000"/>
<rect x="755" y="251" width="3" height="3" fill="#ff4500"/>
<rect x="764" y="191" width="1" height="71" fill="#ff0000"/>
<rect x="762" y="198" width="5" height="52" fill="#ff0000"/>
<rect x="763" y="199" width="3" height="50" fill="#ff4500"/>
<rect x="772" y="176" width="1" height="37" fill="#ff0000"/>
<rect x="770" y="196" width="5" height="2" fill="#ff0000"/>
<rect x="780" y="165" width="1" height="44" fill="#ff0000"/>
<rect x="778" y="173" width="5" height="23" fill="#ff0000"/>
<rect x="779" y="174" width="3" height="21" fill="#ff4500"/>
<rect x="788" y="136" width="1" height="50" fill="#ff0000"/>
<rect x="786" y="143" width="5" height="31" fill="#ff0000"/>
<rect x="787" y="144" width="3" height="29" fill="#ff4500"/>
<rect x="796" y="111" width="1" height="58" fill="#ff0000"/>
<rect x="794" y="118" width="5" height="26" fill="#ff0000"/>
<rect x="795" y="119" width="3" height="24" fill="#ff4500"/>
<rect x="804" y="101" width="1" height="29" fill="#ff0000"/>
<rect x="802" y="102" width="5" height="17" fill="#ff0000"/>
<rect x="803" y="103" width="3" height="15" fill="#ff4500"/>
<rect x="812" y="68" width="1" height="94" fill="#32cd32"/>
<rect x="810" y="102" width="5" height="47" fill="#32cd32"/>
<rect x="820" y="134" width="1" height="74" fill="#32cd32"/>
<rect x="818" y="148" width="5" height="43" fill="#32cd32"/>
<rect x="828" y="142" width="1" height="51" fill="#ff0000"/>
<rect x="826" y="157" width="5" height="35" fill="#ff0000"/>
<rect x="827" y="158" width="3" height="33" fill="#ff4500"/>
<rect x="836" y="121" width="1" height="57" fill="#ff0000"/>
<rect x="834" y="122" width="5" height="35" fill="#ff0000"/>
<rect x="835" y="123" width="3" height="33" fill="#ff4500"/>
<rect x="844" y="121" width="1" height="51" fill="#32cd32"/>
<rect x="842" y="121" width="5" height="51" fill="#32cd32"/>
<rect x="852" y="168" width="1" height="9" fill="#ff0000"/>
<rect x="850" y="171" width="5" height="5" fill="#ff0000"/>
<rect x="851" y="172" width="3" height="3" fill="#ff4500"/>
<rect x="860" y="171" width="1" height="79" fill="#32cd32"/>
<rect x="858" y="171" width="5" height="70" fill="#32cd32"/>
<rect x="868" y="220" width="1" height="45" fill="#32cd32"/>
<rect x="866" y="240" width="5" height="7" fill="#32cd32"/>
<rect x="876" y="170" width="1" height="84" fill="#ff0000"/>
<rect x="874" y="176" width="5" height="70" fill="#ff0000"/>
<rect x="875" y="177" width="3" height="68" fill="#ff4500"/>
<rect x="884" y="102" width="1" height="79" fill="#ff0000"/>
<rect x="882" y="111" width="5" height="66" fill="#ff0000"/>
<rect x="883" y="112" width="3" height="64" fill="#ff4500"/>
<rect x="892" y="85" width="1" height="41" fill="#ff0000"/>
<rect x="890" y="92" width="5" height="20" fill="#ff0000"/>
<rect x="891" y="93" width="3" height="18" fill="#ff4500"/>
<rect x="900" y="88" width="1" height="7" fill="#ff0000"/>
<rect x="898" y="91" width="5" height="3" fill="#ff0000"/>
<rect x="899" y="92" width="3" height="1" fill="#ff4500"/>
<rect x="908" y="80" width="1" height="37" fill="#32cd32"/>
<rect x="906" y="91" width="5" height="11" fill="#32cd32"/>
<rect x="916" y="43" width="1" height="73" fill="#ff0000"/>
<rect x="914" y="52" width="5" height="50" fill="#ff0000"/>
<rect x="915" y="53" width="3" height="48" fill="#ff4500"/>
</g>
<g shape-rendering="crispEdges" fill="#c0c0c0">
<rect x="4" y="442" width="3" height="3"/>
<rect x="11" y="445" width="3" height="1"/>
<rect x="19" y="445" width="3" height="6"/>
<rect x="27" y="445" width="3" height="8"/>
<rect x="35" y="445" width="3" height="10"/>
<rect x="43" y="445" width="3" height="10"/>
<rect x="51" y="445" width="3" height="12"/>
<rect x="59" y="445" width="3" height="15"/>
<rect x="67" y="445" width="3" height="16"/>
<rect x="75" y="445" width="3" height="19"/>
<rect x="83" y="445" width="3" height="21"/>
<rect x="91" y="445" width="3" height="23"/>
<rect x="99" y="445" width="3" height="24"/>
<rect x="107" y="445" width="3" height="25"/>
<rect x="115" y="445" width="3" height="27"/>
<rect x="123" y="445" width="3" height="30"/>
<rect x="131" y="445" width="3" height="31"/>
<rect x="139" y="445" width="3" height="32"/>
<rect x="147" y="445" width="3" height="33"/>
<rect x="155" y="445" width="3" height="34"/>
<rect x="163" y="445" width="3" height="35"/>
<rect x="171" y="445" width="3" height="39"/>
<rect x="179" y="445" width="3" height="40"/>
<rect x="187" y="445" width="3" height="40"/>
<rect x="195" y="445" width="3" height="37"/>
<rect x="203" y="445" width="3" height="32"/>
<rect x="211" y="445" width="3" height="29"/>
<rect x="219" y="445" width="3" height="25"/>
<rect x="227" y="445" width="3" height="22"/>
<rect x="235" y="445" width="3" height="21"/>
<rect x="243" y="445" width="3" height="20"/>
<rect x="251" y="445" width="3" height="18"/>
<rect x="259" y="445" width="3" height="15"/>
<rect x="267" y="445" width="3" height="14"/>
<rect x="275" y="445" width="3" height="14"/>
<rect x="283" y="445" width="3" height="14"/>
<rect x="291" y="445" width="3" height="13"/>
<rect x="299" y="445" width="3" height="9"/>
<rect x="307" y="445" width="3" height="5"/>
<rect x="315" y="445" width="3" height="2"/>
<rect x="323" y="444" width="3" height="1"/>
<rect x="331" y="442" width="3" height="3"/>
<rect x="339" y="441" width="3" height="4"/>
<rect x="347" y="439" width="3" height="6"/>
<rect x="355" y="437" width="3" height="8"/>
<rect x="363" y="436" width="3" height="9"/>
<rect x="371" y="435" width="3" height="10"/>
<rect x="379" y="437" width="3" height="8"/>
<rect x="387" y="438" width="3" height="7"/>
<rect x="395" y="438" width="3" height="7"/>
<rect x="403" y="440" width="3" height="5"/>
<rect x="411" y="442" width="3" height="3"/>
<rect x="419" y="443" width="3" height="2"/>
<rect x="427" y="444" width="3" height="1"/>
<rect x="435" y="444" width="3" height="1"/>
<rect x="443" y="441" width="3" height="4"/>
<rect x="451" y="439" width="3" height="6"/>
<rect x="459" y="440" width="3" height="5"/>
<rect x="467" y="441" width="3" height="4"/>
<rect x="475" y="441" width="3" height="4"/>
<rect x="483" y="442" width="3" height="3"/>
<rect x="491" y="443" width="3" height="2"/>
<rect x="499" y="443" width="3" height="2"/>
<rect x="507" y="444" width="3" height="1"/>
<rect x="515" y="445" width="3" height="1"/>
<rect x="523" y="445" width="3" height="3"/>
<rect x="531" y="445" width="3" height="4"/>
<rect x="539" y="445" width="3" height="7"/>
<rect x="547" y="445" width="3" height="12"/>
<rect x="555" y="445" width="3" height="18"/>
<rect x="563" y="445" width="3" height="21"/>
<rect x="571" y="445" width="3" height="21"/>
<rect x="579" y="445" width="3" height="19"/>
<rect x="587" y="445" width="3" height="17"/>
<rect x="595" y="445" width="3" height="14"/>
<rect x="603" y="445" width="3" height="15"/>
<rect x="611" y="445" width="3" height="14"/>
<rect x="619" y="445" width="3" height="13"/>
<rect x="627" y="445" width="3" height="11"/>
<rect x="635" y="445" width="3" height="8"/>
<rect x="643" y="445" width="3" height="6"/>
<rect x="651" y="445" width="3" height="6"/>
<rect x="659" y="445" width="3" height="5"/>
<rect x="667" y="445" width="3" height="4"/>
<rect x="675" y="445" width="3" height="3"/>
<rect x="683" y="445" width="3" height="1"/>
<rect x="691" y="443" width="3" height="2"/>
<rect x="699" y="442" width="3" height="3"/>
<rect x="707" y="442" width="3" height="3"/>
<rect x="715" y="441" width="3" height="4"/>
<rect x="723" y="439" width="3" height="6"/>
<rect x="731" y="437" width="3" height="8"/>
<rect x="739" y="439" width="3" height="6"/>
<rect x="747" y="437" width="3" height="8"/>
<rect x="755" y="438" width="3" height="7"/>
<rect x="763" y="435" width="3" height="10"/>
<rect x="771" y="434" width="3" height="11"/>
<rect x="779" y="431" width="3" height="14"/>
<rect x="787" y="428" width="3" height="17"/>
<rect x="795" y="424" width="3" height="21"/>
<rect x="803" y="421" width="3" height="24"/>
<rect x="811" y="421" width="3" height="24"/>
<rect x="819" y="423" width="3" height="22"/>
<rect x="827" y="424" width="3" height="21"/>
<rect x="835" y="422" width="3" height="23"/>
<rect x="843" y="425" width="3" height="20"/>
<rect x="851" y="426" width="3" height="19"/>
<rect x="859" y="431" width="3" height="14"/>
<rect x="867" y="435" width="3" height="10"/>
<rect x="875" y="435" width="3" height="10"/>
<rect x="883" y="432" width="3" height="13"/>
<rect x="891" y="430" width="3" height="15"/>
<rect x="899" y="426" width="3" height="19"/>
<rect x="907" y="425" width="3" height="20"/>
<rect x="915" y="421" width="3" height="24"/>
</g>
<g shape-rendering="crispEdges"><path d="M4 430h2v1h-2zM6 431h3v1h-3zM9 432h3v1h-3zM12 433h3v1h-3zM15 434h3v1h-3zM18 435h3v1h-3zM21 436h3v1h-3zM24 437h3v1h-3zM27 438h3v1h-3zM30 439h2v1h-2zM32 440h3v1h-3zM35 441h2v1h-2zM37 442h3v1h-3zM40 443h3v1h-3zM43 444h2v1h-2zM45 445h3v1h-3zM48 446h3v1h-3zM51 447h2v1h-2zM53 448h3v1h-3zM56 449h3v1h-3zM59 450h2v1h-2zM61 451h3v1h-3zM64 452h3v1h-3zM67 453h2v1h-2zM69 454h4v1h-4zM73 455h5v1h-5zM78 456h4v1h-4zM82 457h5v1h-5zM87 458h4v1h-4zM91 459h5v1h-5zM96 460h5v1h-5zM101 461h5v1h-5zM106 462h5v1h-5zM111 463h4v1h-4zM115 464h4v1h-4zM119 465h4v1h-4zM123 466h4v1h-4zM127 467h4v1h-4zM131 468h5v1h-5zM136 469h5v1h-5zM141 470h5v1h-5zM146 471h5v1h-5zM151 472h5v1h-5zM156 473h5v1h-5zM161 474h5v1h-5zM166 475h5v1h-5zM171 476h6v1h-6zM177 477h6v1h-6zM183 478h5v1h-5zM188 479h5v1h-5zM193 480h16v1h-16zM209 479h7v1h-7zM216 478h7v1h-7zM223 477h8v1h-8zM231 476h7v1h-7zM238 475h4v1h-4zM242 474h3v1h-3zM245 473h3v1h-3zM248 472h3v1h-3zM251 471h2v1h-2zM253 470h3v1h-3zM256 469h3v1h-3zM259 468h4v1h-4zM263 467h4v1h-4zM267 466h4v1h-4zM271 465h4v1h-4zM275 464h4v1h-4zM279 463h5v1h-5zM284 462h5v1h-5zM289 461h5v1h-5zM294 460h5v1h-5zM299 459h5v1h-5zM304 458h4v1h-4zM308 457h4v1h-4zM312 456h5v1h-5zM317 455h4v1h-4zM321 454h4v1h-4zM325 453h4v1h-4zM329 452h4v1h-4zM333 451h4v1h-4zM337 450h5v1h-5zM342 449h4v1h-4zM346 448h4v1h-4zM350 447h3v1h-3zM353 446h4v1h-4zM357 445h3v1h-3zM360 444h3v1h-3zM363 443h4v1h-4zM367 442h3v1h-3zM370 441h5v1h-5zM375 440h5v1h-5zM380 439h5v1h-5zM385 438h41v1h-41zM426 439h7v1h-7zM433 440h7v1h-7zM440 441h29v1h-29zM469 442h55v1h-55zM524 443h7v1h-7zM531 444h7v1h-7zM538 445h5v1h-5zM543 446h5v1h-5zM548 447h5v1h-5zM553 448h3v1h-3zM556 449h3v1h-3zM559 450h3v1h-3zM562 451h3v1h-3zM565 452h3v1h-3zM568 453h3v1h-3zM571 454h4v1h-4zM575 455h4v1h-4zM579 456h5v1h-5zM584 457h4v1h-4zM588 458h7v1h-7zM595 459h7v1h-7zM602 460h6v1h-6zM608 461h17v1h-17zM625 460h6v1h-6zM631 459h6v1h-6zM637 458h5v1h-5zM642 457h5v1h-5zM647 456h5v1h-5zM652 455h5v1h-5zM657 454h5v1h-5zM662 453h6v1h-6zM668 452h6v1h-6zM674 451h5v1h-5zM679 450h6v1h-6zM685 449h6v1h-6zM691 448h6v1h-6zM697 447h6v1h-6zM703 446h7v1h-7zM710 445h7v1h-7zM717 444h7v1h-7zM724 443h10v1h-10zM734 442h10v1h-10zM744 441h9v1h-9zM753 440h7v1h-7zM760 439h7v1h-7zM767 438h7v1h-7zM774 437h5v1h-5zM779 436h5v1h-5zM784 435h5v1h-5zM789 434h5v1h-5zM794 433h5v1h-5zM799 432h5v1h-5zM804 431h4v1h-4zM808 430h5v1h-5zM813 429h4v1h-4zM817 428h5v1h-5zM822 427h5v1h-5zM827 426h5v1h-5zM832 425h5v1h-5zM837 424h30v1h-30zM867 425h4v1h-4zM871 426h5v1h-5zM876 427h7v1h-7zM883 428h5v1h-5zM888 429h29v1h-29z" fill="#ff0000"/></g>
<g shape-rendering="crispEdges" stroke="#b4b4b4" stroke-dasharray="3 3" stroke-width="1"><line x1="5" y1="513.5" x2="1166" y2="513.5"/><line x1="5" y1="542.5" x2="1166" y2="542.5"/></g>
<g shape-rendering="crispEdges"><path d="M4 533h3v1h-3zM7 534h3v1h-3zM10 535h2v1h-2zM12 536h3v1h-3zM15 537h2v1h-2zM17 538h3v1h-3zM20 539h1v1h-1zM21 538h2v1h-2zM23 537h2v1h-2zM25 536h2v1h-2zM27 535h2v1h-2zM29 534h3v1h-3zM32 533h16v1h-16zM48 534h2v1h-2zM50 535h3v1h-3zM53 536h2v1h-2zM55 537h3v1h-3zM58 538h2v1h-2zM60 539h1v1h-1zM61 538h4v1h-4zM65 537h7v1h-7zM72 538h3v1h-3zM75 539h3v1h-3zM78 540h11v1h-11zM89 541h15v1h-15zM104 542h4v1h-4zM108 543h5v1h-5zM113 544h3v1h-3zM116 545h4v1h-4zM120 546h3v1h-3zM123 547h3v1h-3zM126 546h1v1h-1zM127 545h2v1h-2zM129 544h2v1h-2zM131 543h17v1h-17zM148 544h7v1h-7zM155 545h7v1h-7zM162 546h3v1h-3zM165 547h2v1h-2zM167 548h3v1h-3zM170 549h2v1h-2zM172 550h2v1h-2zM174 549h2v1h-2zM176 548h2v1h-2zM178 547h3v1h-3zM181 546h2v1h-2zM183 545h2v1h-2zM185 544h2v1h-2zM187 543h1v1h-1zM188 542h1v1h-1zM189 541h1v1h-1zM190 539h1v2h-1zM191 538h1v1h-1zM192 537h1v1h-1zM193 536h1v1h-1zM194 535h1v1h-1zM195 534h2v1h-2zM197 533h2v1h-2zM199 532h2v1h-2zM201 531h2v1h-2zM203 530h6v1h-6zM209 531h6v1h-6zM215 530h4v1h-4zM219 529h9v1h-9zM228 530h6v1h-6zM234 531h3v1h-3zM237 532h4v1h-4zM241 533h3v1h-3zM244 534h1v1h-1zM245 533h1v1h-1zM246 532h2v1h-2zM248 531h1v1h-1zM249 530h1v1h-1zM250 529h2v1h-2zM252 528h11v1h-11zM263 529h3v1h-3zM266 530h2v1h-2zM268 531h4v1h-4zM272 532h7v1h-7zM279 533h6v1h-6zM285 532h2v1h-2zM287 531h2v1h-2zM289 530h2v1h-2zM291 529h2v1h-2zM293 528h1v1h-1zM294 527h2v1h-2zM296 526h1v1h-1zM297 525h2v1h-2zM299 524h1v1h-1zM300 523h3v1h-3zM303 522h39v1h-39zM342 521h3v1h-3zM345 520h11v1h-11zM356 521h1v1h-1zM357 520h4v1h-4zM361 519h12v1h-12zM373 519h1v2h-1zM374 521h1v1h-1zM375 522h1v1h-1zM376 523h1v2h-1zM377 525h1v1h-1zM378 526h1v1h-1zM379 527h1v1h-1zM380 528h3v1h-3zM383 527h2v1h-2zM385 526h2v1h-2zM387 525h1v1h-1zM388 524h5v1h-5zM393 525h3v1h-3zM396 526h2v1h-2zM398 527h1v1h-1zM399 528h1v1h-1zM400 529h2v1h-2zM402 530h1v1h-1zM403 531h1v1h-1zM404 532h3v1h-3zM407 531h2v1h-2zM409 530h3v1h-3zM412 529h4v1h-4zM416 530h15v1h-15zM431 529h2v1h-2zM433 528h2v1h-2zM435 527h2v1h-2zM437 526h1v1h-1zM438 525h1v1h-1zM439 524h2v1h-2zM441 523h1v1h-1zM442 522h1v1h-1zM443 521h1v1h-1zM444 520h10v1h-10zM454 521h1v1h-1zM455 522h1v1h-1zM456 523h1v1h-1zM457 524h1v1h-1zM458 525h1v1h-1zM459 526h1v1h-1zM460 527h1v1h-1zM461 528h4v1h-4zM465 527h9v1h-9zM474 528h4v1h-4zM478 529h4v1h-4zM482 530h4v1h-4zM486 529h2v1h-2zM488 528h2v1h-2zM490 527h13v1h-13zM503 528h2v1h-2zM505 529h2v1h-2zM507 530h2v1h-2zM509 531h5v1h-5zM514 530h4v1h-4zM518 531h3v1h-3zM521 532h2v1h-2zM523 533h5v1h-5zM528 532h7v1h-7zM535 533h2v1h-2zM537 534h2v1h-2zM539 535h2v1h-2zM541 536h1v1h-1zM542 537h1v1h-1zM543 538h2v1h-2zM545 539h1v1h-1zM546 540h1v1h-1zM547 541h1v1h-1zM548 542h4v1h-4zM552 543h4v1h-4zM556 544h5v1h-5zM561 543h4v1h-4zM565 541h1v2h-1zM566 540h1v1h-1zM567 539h1v1h-1zM568 538h1v1h-1zM569 537h1v1h-1zM570 536h1v1h-1zM571 535h1v1h-1zM572 534h1v1h-1zM573 533h2v1h-2zM575 532h2v1h-2zM577 531h1v1h-1zM578 530h2v1h-2zM580 529h3v1h-3zM583 530h6v1h-6zM589 529h4v1h-4zM593 528h3v1h-3zM596 529h4v1h-4zM600 530h2v1h-2zM602 531h2v1h-2zM604 532h2v1h-2zM606 533h1v1h-1zM607 532h6v1h-6zM613 531h2v1h-2zM615 530h2v1h-2zM617 529h3v1h-3zM620 528h4v1h-4zM624 527h5v1h-5zM629 526h3v1h-3zM632 525h3v1h-3zM635 524h6v1h-6zM641 525h4v1h-4zM645 526h2v1h-2zM647 527h2v1h-2zM649 528h3v1h-3zM652 529h3v1h-3zM655 528h3v1h-3zM658 527h8v1h-8zM666 528h6v1h-6zM672 527h5v1h-5zM677 526h2v1h-2zM679 525h2v1h-2zM681 524h2v1h-2zM683 523h7v1h-7zM690 524h16v1h-16zM706 525h6v1h-6zM712 524h5v1h-5zM717 523h2v1h-2zM719 522h2v1h-2zM721 521h2v1h-2zM723 520h10v1h-10zM733 521h1v1h-1zM734 522h1v1h-1zM735 523h1v1h-1zM736 524h1v1h-1zM737 525h1v1h-1zM738 526h1v1h-1zM739 527h1v1h-1zM740 528h2v1h-2zM742 527h1v1h-1zM743 526h1v1h-1zM744 525h2v1h-2zM746 524h1v1h-1zM747 523h1v1h-1zM748 522h3v1h-3zM751 523h1v1h-1zM752 524h2v1h-2zM754 525h2v1h-2zM756 526h2v1h-2zM758 525h1v1h-1zM759 524h2v1h-2zM761 523h1v1h-1zM762 522h2v1h-2zM764 521h10v1h-10zM774 520h4v1h-4zM778 519h3v1h-3zM781 518h3v1h-3zM784 517h2v1h-2zM786 516h3v1h-3zM789 515h5v1h-5zM794 514h5v1h-5zM799 513h6v1h-6zM805 514h1v1h-1zM806 515h1v1h-1zM807 516h1v1h-1zM808 517h1v1h-1zM809 518h2v1h-2zM811 519h1v1h-1zM812 520h1v1h-1zM813 521h2v1h-2zM815 522h1v1h-1zM816 523h2v1h-2zM818 524h2v1h-2zM820 525h3v1h-3zM823 524h2v1h-2zM825 523h3v1h-3zM828 522h2v1h-2zM830 521h2v1h-2zM832 520h2v1h-2zM834 519h4v1h-4zM838 520h1v1h-1zM839 521h1v1h-1zM840 522h2v1h-2zM842 523h1v1h-1zM843 524h2v1h-2zM845 525h8v1h-8zM853 526h2v1h-2zM855 527h1v1h-1zM856 528h2v1h-2zM858 529h1v1h-1zM859 530h2v1h-2zM861 531h4v1h-4zM865 532h4v1h-4zM869 531h1v1h-1zM870 530h1v1h-1zM871 529h2v1h-2zM873 528h1v1h-1zM874 527h1v1h-1zM875 526h1v1h-1zM876 525h1v1h-1zM877 524h2v1h-2zM879 523h2v1h-2zM881 522h1v1h-1zM882 521h2v1h-2zM884 520h3v1h-3zM887 519h25v1h-25zM912 518h3v1h-3zM915 517h2v1h-2z" fill="#1e90ff"/></g>
<g shape-rendering="crispEdges" fill="#000">
<rect x="1167" y="48" width="3" height="1"/>
<rect x="1167" y="81" width="3" height="1"/>
<rect x="1167" y="114" width="3" height="1"/>
<rect x="1167" y="147" width="3" height="1"/>
<rect x="1167" y="180" width="3" height="1"/>
<rect x="1167" y="213" width="3" height="1"/>
<rect x="1167" y="246" width="3" height="1"/>
<rect x="1167" y="279" width="3" height="1"/>
<rect x="1167" y="312" width="3" height="1"/>
<rect x="1167" y="345" width="3" height="1"/>
<rect x="1167" y="378" width="3" height="1"/>
<rect x="1167" y="445" width="2" height="1"/>
<rect x="4" y="565" width="1" height="3"/>
<rect x="68" y="565" width="1" height="3"/>
<rect x="132" y="565" width="1" height="3"/>
<rect x="196" y="565" width="1" height="3"/>
<rect x="260" y="565" width="1" height="3"/>
<rect x="324" y="565" width="1" height="3"/>
<rect x="388" y="565" width="1" height="3"/>
<rect x="452" y="565" width="1" height="3"/>
<rect x="516" y="565" width="1" height="3"/>
<rect x="580" y="565" width="1" height="3"/>
<rect x="644" y="565" width="1" height="3"/>
<rect x="708" y="565" width="1" height="3"/>
<rect x="772" y="565" width="1" height="3"/>
<rect x="836" y="565" width="1" height="3"/>
<rect x="900" y="565" width="1" height="3"/>
</g>
<text x="0.5" y="10.6" font-size="9.4" fill="#4a4a4a" xml:space="preserve">5</text>
<text x="15.5" y="10.6" font-size="9.4" fill="#4a4a4a" textLength="17.5" lengthAdjust="spacingAndGlyphs" xml:space="preserve">M30</text>
<text x="47" y="10.6" font-size="9.4" fill="#4a4a4a" textLength="11.5" lengthAdjust="spacingAndGlyphs" xml:space="preserve">H1</text>
<text x="74" y="10.6" font-size="9.4" fill="#4a4a4a" textLength="12" lengthAdjust="spacingAndGlyphs" xml:space="preserve">H4</text>
<text x="103" y="10.6" font-size="9.4" fill="#4a4a4a" textLength="11" lengthAdjust="spacingAndGlyphs" xml:space="preserve">D1</text>
<text x="130.2" y="10.6" font-size="9.4" fill="#4a4a4a" textLength="13.6" lengthAdjust="spacingAndGlyphs" xml:space="preserve">W1</text>
<text x="156.8" y="10.6" font-size="9.4" fill="#4a4a4a" textLength="14.4" lengthAdjust="spacingAndGlyphs" xml:space="preserve">MN</text>
<path d="M7 34.5 L10.5 30.5 L14 34.5 Z" fill="#000"/>
<text x="20" y="35" font-size="9.4" fill="#000" textLength="67.4" lengthAdjust="spacingAndGlyphs" stroke="#000" stroke-width="0.12" xml:space="preserve">AUDUSD-,Daily</text>
<text x="94.1" y="35" font-size="9.4" fill="#000" textLength="140.7" lengthAdjust="spacingAndGlyphs" stroke="#000" stroke-width="0.12" xml:space="preserve">0.73940 0.74759 0.73747 0.74637</text>
<text x="1172.3" y="52" font-size="9.4" fill="#000" textLength="32.4" lengthAdjust="spacingAndGlyphs" stroke="#000" stroke-width="0.12" xml:space="preserve">0.74690</text>
<text x="1172.3" y="85" font-size="9.4" fill="#000" textLength="32.4" lengthAdjust="spacingAndGlyphs" stroke="#000" stroke-width="0.12" xml:space="preserve">0.74220</text>
<text x="1172.3" y="118" font-size="9.4" fill="#000" textLength="32.4" lengthAdjust="spacingAndGlyphs" stroke="#000" stroke-width="0.12" xml:space="preserve">0.73750</text>
<text x="1172.3" y="151" font-size="9.4" fill="#000" textLength="32.4" lengthAdjust="spacingAndGlyphs" stroke="#000" stroke-width="0.12" xml:space="preserve">0.73290</text>
<text x="1172.3" y="184" font-size="9.4" fill="#000" textLength="32.4" lengthAdjust="spacingAndGlyphs" stroke="#000" stroke-width="0.12" xml:space="preserve">0.72820</text>
<text x="1172.3" y="217" font-size="9.4" fill="#000" textLength="32.4" lengthAdjust="spacingAndGlyphs" stroke="#000" stroke-width="0.12" xml:space="preserve">0.72360</text>
<text x="1172.3" y="250" font-size="9.4" fill="#000" textLength="32.4" lengthAdjust="spacingAndGlyphs" stroke="#000" stroke-width="0.12" xml:space="preserve">0.71890</text>
<text x="1172.3" y="283" font-size="9.4" fill="#000" textLength="32.4" lengthAdjust="spacingAndGlyphs" stroke="#000" stroke-width="0.12" xml:space="preserve">0.71430</text>
<text x="1172.3" y="316" font-size="9.4" fill="#000" textLength="32.4" lengthAdjust="spacingAndGlyphs" stroke="#000" stroke-width="0.12" xml:space="preserve">0.70960</text>
<text x="1172.3" y="349" font-size="9.4" fill="#000" textLength="32.4" lengthAdjust="spacingAndGlyphs" stroke="#000" stroke-width="0.12" xml:space="preserve">0.70490</text>
<text x="1172.3" y="382" font-size="9.4" fill="#000" textLength="32.4" lengthAdjust="spacingAndGlyphs" stroke="#000" stroke-width="0.12" xml:space="preserve">0.70030</text>
<g shape-rendering="crispEdges">
<rect x="1168" y="47" width="36" height="10" fill="#000"/>
<rect x="1168" y="92" width="36" height="10" fill="#ff0000"/>
<rect x="1168" y="199" width="36" height="10" fill="#00ff00"/>
<rect x="1168" y="303" width="36" height="10" fill="#0000ff"/>
<rect x="1168" y="405" width="36" height="10" fill="#0000ff"/>
</g>
<text x="1172.3" y="55.2" font-size="9.4" fill="#fff" textLength="32.4" lengthAdjust="spacingAndGlyphs" xml:space="preserve">0.74637</text>
<text x="1172.3" y="100.2" font-size="9.4" fill="#fff" textLength="32.4" lengthAdjust="spacingAndGlyphs" xml:space="preserve">0.74002</text>
<text x="1172.3" y="207.2" font-size="9.4" fill="#fff" textLength="32.4" lengthAdjust="spacingAndGlyphs" xml:space="preserve">0.72491</text>
<text x="1172.3" y="311.2" font-size="9.4" fill="#fff" textLength="32.4" lengthAdjust="spacingAndGlyphs" xml:space="preserve">0.71013</text>
<text x="1172.3" y="413.2" font-size="9.4" fill="#fff" textLength="32.4" lengthAdjust="spacingAndGlyphs" xml:space="preserve">0.69574</text>
<text x="1170" y="427" font-size="9.4" fill="#000" textLength="32.3" lengthAdjust="spacingAndGlyphs" stroke="#000" stroke-width="0.12" xml:space="preserve">0.00585</text>
<text x="1170" y="449" font-size="9.4" fill="#000" textLength="17.7" lengthAdjust="spacingAndGlyphs" stroke="#000" stroke-width="0.12" xml:space="preserve">0.00</text>
<text x="1170" y="485" font-size="9.4" fill="#000" textLength="35.7" lengthAdjust="spacingAndGlyphs" stroke="#000" stroke-width="0.12" xml:space="preserve">-0.00918</text>
<text x="1170.6" y="501" font-size="9.4" fill="#000" textLength="14.6" lengthAdjust="spacingAndGlyphs" stroke="#000" stroke-width="0.12" xml:space="preserve">100</text>
<text x="1169.7" y="517" font-size="9.4" fill="#000" textLength="9.8" lengthAdjust="spacingAndGlyphs" stroke="#000" stroke-width="0.12" xml:space="preserve">70</text>
<text x="1169.7" y="546" font-size="9.4" fill="#000" textLength="9.8" lengthAdjust="spacingAndGlyphs" stroke="#000" stroke-width="0.12" xml:space="preserve">30</text>
<text x="1170" y="560.5" font-size="9.4" fill="#000" textLength="4.9" lengthAdjust="spacingAndGlyphs" stroke="#000" stroke-width="0.12" xml:space="preserve">0</text>
<text x="8.5" y="429" font-size="9.4" fill="#000" textLength="65" lengthAdjust="spacingAndGlyphs" stroke="#000" stroke-width="0.12" xml:space="preserve">MACD(12,26,9)</text>
<text x="77.2" y="429" font-size="9.4" fill="#000" textLength="78.8" lengthAdjust="spacingAndGlyphs" stroke="#000" stroke-width="0.12" xml:space="preserve">0.005025 0.003394</text>
<text x="8.5" y="503" font-size="9.4" fill="#000" textLength="31.4" lengthAdjust="spacingAndGlyphs" stroke="#000" stroke-width="0.12" xml:space="preserve">RSI(14)</text>
<text x="43.1" y="503" font-size="9.4" fill="#000" textLength="32.7" lengthAdjust="spacingAndGlyphs" stroke="#000" stroke-width="0.12" xml:space="preserve">64.7386</text>
<text x="3.2" y="577" font-size="9.4" fill="#000" textLength="48.2" lengthAdjust="spacingAndGlyphs" stroke="#000" stroke-width="0.12" xml:space="preserve">9 Nov 2021</text>
<text x="67.2" y="577" font-size="9.4" fill="#000" textLength="53.3" lengthAdjust="spacingAndGlyphs" stroke="#000" stroke-width="0.12" xml:space="preserve">18 Nov 2021</text>
<text x="131.2" y="577" font-size="9.4" fill="#000" textLength="53.2" lengthAdjust="spacingAndGlyphs" stroke="#000" stroke-width="0.12" xml:space="preserve">28 Nov 2021</text>
<text x="195.2" y="577" font-size="9.4" fill="#000" textLength="45.8" lengthAdjust="spacingAndGlyphs" stroke="#000" stroke-width="0.12" xml:space="preserve">7 Dec 2021</text>
<text x="259.2" y="577" font-size="9.4" fill="#000" textLength="50.8" lengthAdjust="spacingAndGlyphs" stroke="#000" stroke-width="0.12" xml:space="preserve">16 Dec 2021</text>
<text x="323.2" y="577" font-size="9.4" fill="#000" textLength="50.5" lengthAdjust="spacingAndGlyphs" stroke="#000" stroke-width="0.12" xml:space="preserve">26 Dec 2021</text>
<text x="387.2" y="577" font-size="9.4" fill="#000" textLength="43.8" lengthAdjust="spacingAndGlyphs" stroke="#000" stroke-width="0.12" xml:space="preserve">4 Jan 2022</text>
<text x="451.2" y="577" font-size="9.4" fill="#000" textLength="48.8" lengthAdjust="spacingAndGlyphs" stroke="#000" stroke-width="0.12" xml:space="preserve">13 Jan 2022</text>
<text x="515.2" y="577" font-size="9.4" fill="#000" textLength="49.2" lengthAdjust="spacingAndGlyphs" stroke="#000" stroke-width="0.12" xml:space="preserve">23 Jan 2022</text>
<text x="579.2" y="577" font-size="9.4" fill="#000" textLength="46.5" lengthAdjust="spacingAndGlyphs" stroke="#000" stroke-width="0.12" xml:space="preserve">1 Feb 2022</text>
<text x="643.2" y="577" font-size="9.4" fill="#000" textLength="50.8" lengthAdjust="spacingAndGlyphs" stroke="#000" stroke-width="0.12" xml:space="preserve">10 Feb 2022</text>
<text x="707.2" y="577" font-size="9.4" fill="#000" textLength="50.8" lengthAdjust="spacingAndGlyphs" stroke="#000" stroke-width="0.12" xml:space="preserve">20 Feb 2022</text>
<text x="771.2" y="577" font-size="9.4" fill="#000" textLength="46.6" lengthAdjust="spacingAndGlyphs" stroke="#000" stroke-width="0.12" xml:space="preserve">1 Mar 2022</text>
<text x="835.2" y="577" font-size="9.4" fill="#000" textLength="51.3" lengthAdjust="spacingAndGlyphs" stroke="#000" stroke-width="0.12" xml:space="preserve">10 Mar 2022</text>
<text x="899.2" y="577" font-size="9.4" fill="#000" textLength="51.3" lengthAdjust="spacingAndGlyphs" stroke="#000" stroke-width="0.12" xml:space="preserve">20 Mar 2022</text>
<g shape-rendering="crispEdges">
<rect x="6" y="42" width="222" height="59" fill="#fff"/>
<path d="M7 43 H59 V67 H116 V100 H7 Z" fill="url(#rg)"/>
<path d="M226 43 H174 V67 H118 V100 H226 Z" fill="url(#rg)"/>
<path d="M7.5 43.5 H58.5 V67.5 H115.5 V99.5 H7.5 Z" fill="none" stroke="#b00000" stroke-width="1"/>
<path d="M225.5 43.5 H174.5 V67.5 H118.5 V99.5 H225.5 Z" fill="none" stroke="#b00000" stroke-width="1"/>
<rect x="11" y="66" width="44" height="1" fill="#8c0000"/><rect x="178" y="66" width="44" height="1" fill="#8c0000"/>
<rect x="7" y="98" width="109" height="2" fill="#a00000"/><rect x="118" y="98" width="108" height="2" fill="#a00000"/>
<rect x="61.5" y="43.5" width="110" height="21" fill="#fff" stroke="#a8a8a8"/>
<rect x="63" y="45" width="18" height="18" fill="url(#bg)"/><rect x="81" y="44" width="1" height="20" fill="#b0b0b0"/>
<rect x="152" y="45" width="18" height="18" fill="url(#bg)"/><rect x="150" y="44" width="1" height="20" fill="#b0b0b0"/>
</g>
<path d="M69.3 52 H74.7 L72 55 Z" fill="#4664c8"/><path d="M157.8 55.3 H163.2 L160.5 52.3 Z" fill="#4664c8"/>
<text x="19.4" y="58.7" font-size="12" fill="#fff" textLength="25.3" lengthAdjust="spacingAndGlyphs" xml:space="preserve">SELL</text>
<text x="187.6" y="58.7" font-size="12" fill="#fff" textLength="23.2" lengthAdjust="spacingAndGlyphs" xml:space="preserve">BUY</text>
<text x="123.8" y="58" font-size="12" fill="#000" textLength="22.9" lengthAdjust="spacingAndGlyphs" stroke="#000" stroke-width="0" xml:space="preserve">5.00</text>
<text x="27" y="94.8" font-size="12" fill="#fff" textLength="23.7" lengthAdjust="spacingAndGlyphs" font-weight="bold" xml:space="preserve">0.74</text>
<text x="137" y="94.8" font-size="12" fill="#fff" textLength="23.7" lengthAdjust="spacingAndGlyphs" font-weight="bold" xml:space="preserve">0.74</text>
<text x="54.4" y="95" font-size="33.8" fill="#fff" stroke="url(#rgu)" stroke-width="0.45" textLength="34.2" lengthAdjust="spacingAndGlyphs">63</text>
<text x="166" y="95" font-size="33.8" fill="#fff" stroke="url(#rgu)" stroke-width="0.45" textLength="33.8" lengthAdjust="spacingAndGlyphs">65</text>
<text x="94.3" y="78.8" font-size="12" fill="#fff" textLength="6" lengthAdjust="spacingAndGlyphs" font-weight="bold" xml:space="preserve">7</text>
<text x="204.9" y="78.8" font-size="12" fill="#fff" textLength="6.4" lengthAdjust="spacingAndGlyphs" font-weight="bold" xml:space="preserve">6</text>
<g shape-rendering="crispEdges">
<rect x="0" y="585" width="1204" height="1" fill="#e0e0e0"/>
<rect x="0" y="586" width="1204" height="1" fill="#f0f0f0"/>
<rect x="0" y="587" width="1204" height="1" fill="#000"/>
<rect x="0" y="588" width="1204" height="18" fill="#f0f0f0"/>
<rect x="0" y="587" width="1" height="19" fill="#606060"/>
<rect x="0" y="606" width="1204" height="1" fill="#f6f6f6"/>
<rect x="0" y="607" width="1204" height="1" fill="#fcfcfc"/>
<rect x="0" y="608" width="1204" height="3" fill="#e6e6e6"/>
<rect x="0" y="611" width="1204" height="1" fill="#9a9a9a"/>
<rect x="213" y="586" width="109" height="20" fill="#000"/>
<rect x="214" y="586" width="106" height="19" fill="#fff"/>
<rect x="213" y="586" width="109" height="1" fill="#fff"/>
<rect x="105" y="591" width="1" height="13" fill="#707070"/>
<rect x="430" y="591" width="1" height="13" fill="#707070"/>
<rect x="537" y="591" width="1" height="13" fill="#707070"/>
<rect x="649" y="591" width="1" height="13" fill="#707070"/>
<rect x="745" y="591" width="1" height="13" fill="#707070"/>
<rect x="833" y="591" width="1" height="13" fill="#707070"/>
<rect x="921" y="591" width="1" height="13" fill="#707070"/>
<rect x="1005" y="591" width="1" height="13" fill="#707070"/>
<rect x="1085" y="591" width="1" height="13" fill="#707070"/>
<rect x="1173" y="591" width="1" height="13" fill="#707070"/>
</g>
<text x="16.2" y="602" font-size="12" fill="#6e6e78" textLength="77.8" lengthAdjust="spacingAndGlyphs" xml:space="preserve">USDX,Weekly</text>
<text x="116.3" y="602" font-size="12" fill="#6e6e78" textLength="84.4" lengthAdjust="spacingAndGlyphs" xml:space="preserve">EURUSD-,Daily</text>
<text x="223.2" y="602" font-size="12" fill="#000" textLength="86.5" lengthAdjust="spacingAndGlyphs" stroke="#000" stroke-width="0.12" xml:space="preserve">AUDUSD-,Daily</text>
<text x="333.2" y="602" font-size="12" fill="#6e6e78" textLength="83.4" lengthAdjust="spacingAndGlyphs" xml:space="preserve">USDCHF-,Daily</text>
<text x="440.5" y="602" font-size="12" fill="#6e6e78" textLength="85.7" lengthAdjust="spacingAndGlyphs" xml:space="preserve">USDCAD-,Daily</text>
<text x="549.5" y="602" font-size="12" fill="#6e6e78" textLength="87.4" lengthAdjust="spacingAndGlyphs" xml:space="preserve">USDCNH-,Daily</text>
<text x="660.1" y="602" font-size="12" fill="#6e6e78" textLength="73.1" lengthAdjust="spacingAndGlyphs" xml:space="preserve">XAUUSD-,H1</text>
<text x="755.5" y="602" font-size="12" fill="#6e6e78" textLength="65.3" lengthAdjust="spacingAndGlyphs" xml:space="preserve">UKOil-,M15</text>
<text x="845.3" y="602" font-size="12" fill="#6e6e78" textLength="63.8" lengthAdjust="spacingAndGlyphs" xml:space="preserve">DJ30-,Daily</text>
<text x="932.6" y="602" font-size="12" fill="#6e6e78" textLength="61" lengthAdjust="spacingAndGlyphs" xml:space="preserve">UK100-,H1</text>
<text x="1017.4" y="602" font-size="12" fill="#6e6e78" textLength="55.1" lengthAdjust="spacingAndGlyphs" xml:space="preserve">USOil-,H4</text>
<text x="1095.3" y="602" font-size="12" fill="#6e6e78" textLength="66.4" lengthAdjust="spacingAndGlyphs" xml:space="preserve">HK50-,Daily</text>
<path d="M1185 593.5 V600.5 L1181 597 Z" fill="#808080"/><path d="M1199 593.5 V600.5 L1203 597 Z" fill="#808080"/>
</svg>
</body></html>
